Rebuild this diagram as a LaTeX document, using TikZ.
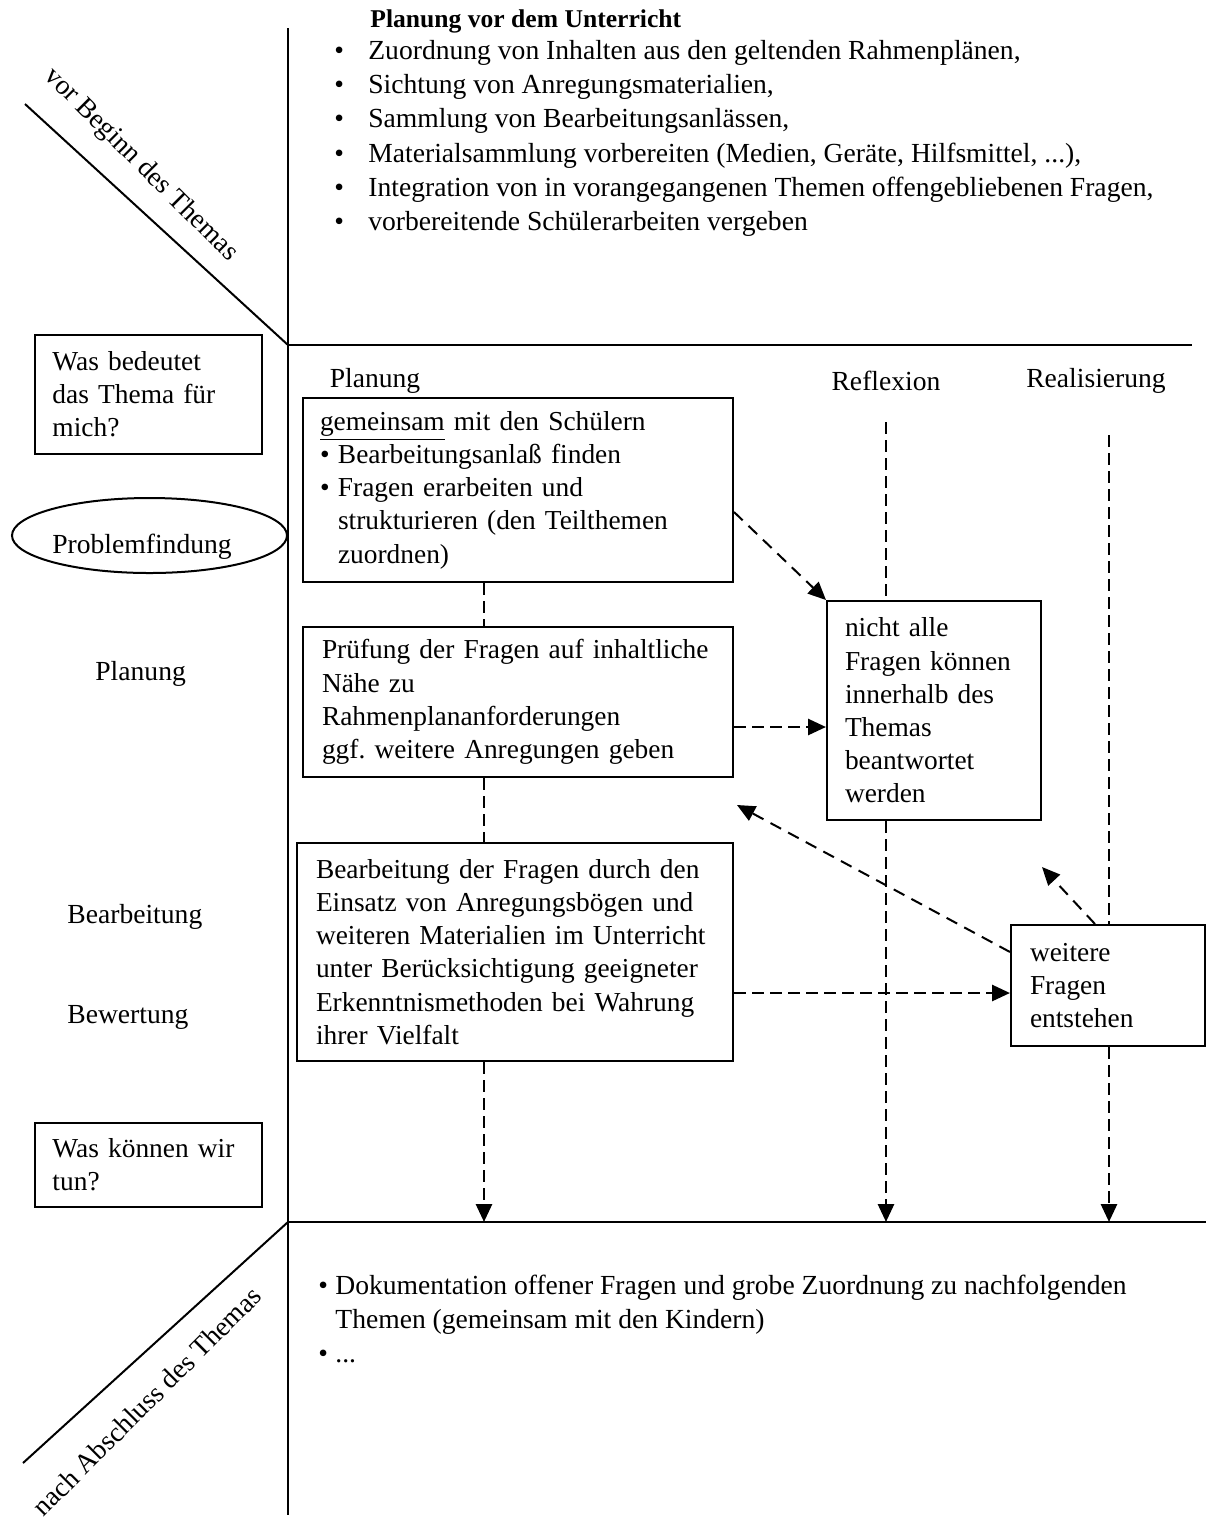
\documentclass[tikz,border=0pt]{standalone}
\usepackage{fontspec}
\setmainfont{Liberation Serif}
\usetikzlibrary{arrows.meta,shapes.geometric}
\frenchspacing
\newcommand{\oneline}[1]{\mbox{#1}}
\newcommand{\bul}[1]{\makebox[#1][l]{\textbullet}}
\begin{document}
\begin{tikzpicture}[x=0.5pt,y=-0.5pt,
  every node/.style={font=\fontsize{13.8}{16.6}\selectfont},
  line/.style={line width=1pt},
  box/.style={draw,line width=1pt,inner xsep=0pt,inner ysep=0pt,align=left,
    font=\fontsize{13.7}{16.6}\selectfont},
  dsh/.style={line width=1.4pt,dash pattern=on 6pt off 3pt},
  arr/.style={dsh,-{Triangle[length=9pt,width=8pt]}},
  darr/.style={line width=1pt,dash pattern=on 6pt off 4pt,-{Triangle[length=9pt,width=8pt]}},
  lbl/.style={anchor=base west,inner sep=0pt},
]
\useasboundingbox (0,0) rectangle (1206,1523);
% frame lines
\coordinate (vtop) at (288,28);
\coordinate (vbot) at (288,1515);
\coordinate (h1l) at (288,345);
\coordinate (h1r) at (1192,345);
\coordinate (h2l) at (288,1222);
\coordinate (h2r) at (1206,1222);
\coordinate (d1) at (25,104);
\coordinate (d2) at (23,1463);
\draw[line] (vtop) -- (vbot);
\draw[line] (h1l) -- (h1r);
\draw[line] (h2l) -- (h2r);
\draw[line] (d1) -- (h1l);
\draw[line] (h2l) -- (d2);
\node[rotate=-45] (vb) at (141,165) {vor Beginn des Themas};
\node[rotate=45] (na) at (147,1401) {nach Abschluss des Themas};
% top text
\node[lbl,font=\bfseries\fontsize{12.8}{16.6}\selectfont] (title) at (370,27) {Planung vor dem Unterricht};
\node[lbl] (t1) at (334,59) {\bul{17pt}Zuordnung von Inhalten aus den geltenden Rahmenplänen,};
\node[lbl] (t2) at (334,93) {\bul{17pt}Sichtung von Anregungsmaterialien,};
\node[lbl] (t3) at (334,127) {\bul{17pt}Sammlung von Bearbeitungsanlässen,};
\node[lbl] (t4) at (334,162) {\bul{17pt}Materialsammlung vorbereiten (Medien, Geräte, Hilfsmittel, ...),};
\node[lbl] (t5) at (334,196) {\bul{17pt}Integration von in vorangegangenen Themen offengebliebenen Fragen,};
\node[lbl] (t6) at (334,230) {\bul{17pt}vorbereitende Schülerarbeiten vergeben};
% left column
\node[box,minimum width=113.5pt,minimum height=59.5pt,text width=96pt] (was) at (148.5,394)
  {\oneline{Was bedeutet}\\\oneline{das Thema für}\\\oneline{mich?}};
\node[ellipse,draw,line width=1pt,minimum width=137.5pt,minimum height=37.5pt,inner sep=0pt,
  text height=17.5pt,text depth=0pt] (pf) at (149.5,535.5) {Problemfindung\hspace*{7.5pt}};
\node[lbl] (lplan) at (95,680) {Planung};
\node[lbl] (lbear) at (67,923) {Bearbeitung};
\node[lbl] (lbew) at (67,1023) {Bewertung};
\node[box,minimum width=113.5pt,minimum height=42pt,text width=96pt] (tun) at (148.5,1165)
  {\oneline{Was können wir}\\\oneline{tun?}};
% headers
\node (hplan) at (375,381) {Planung};
\node (hrefl) at (886,381) {Reflexion};
\node (hreal) at (1096,381) {Realisierung};
% main boxes
\node[box,minimum width=215pt,minimum height=92pt,text width=198pt] (b1) at (518,490)
  {\oneline{\underline{gemeinsam} mit den Schülern}\\
   \oneline{\bul{9pt}Bearbeitungsanlaß finden}\\
   \oneline{\bul{9pt}Fragen erarbeiten und}\\
   \oneline{\hspace*{9pt}strukturieren (den Teilthemen}\\
   \oneline{\hspace*{9pt}zuordnen)}};
\node[box,minimum width=215pt,minimum height=75pt,text width=196pt] (b2) at (518,702)
  {\oneline{Prüfung der Fragen auf inhaltliche}\\\oneline{Nähe zu}\\\oneline{Rahmenplananforderungen}\\\oneline{ggf. weitere Anregungen geben}};
\node[box,minimum width=218pt,minimum height=109pt,text width=199pt] (b3) at (515,952)
  {\oneline{Bearbeitung der Fragen durch den}\\\oneline{Einsatz von Anregungsbögen und}\\\oneline{weiteren Materialien im Unterricht}\\\oneline{unter Berücksichtigung geeigneter}\\\oneline{Erkenntnismethoden bei Wahrung}\\\oneline{ihrer Vielfalt}};
\node[box,minimum width=107pt,minimum height=109.5pt,text width=89pt] (b4) at (934,710.5)
  {\oneline{nicht alle}\\\oneline{Fragen können}\\\oneline{innerhalb des}\\\oneline{Themas}\\\oneline{beantwortet}\\\oneline{werden}};
\node[box,minimum width=97pt,minimum height=60.5pt,text width=78pt] (b5) at (1108,985.5)
  {\oneline{weitere}\\\oneline{Fragen}\\\oneline{entstehen}};
% bottom text
\node[lbl] (n1) at (318,1294) {\bul{8.5pt}Dokumentation offener Fragen und grobe Zuordnung zu nachfolgenden};
\node[lbl] (n2) at (335,1328) {Themen (gemeinsam mit den Kindern)};
\node[lbl] (n3) at (318,1362) {\bul{8.5pt}...};
% connectors
\coordinate (cx) at (484,0);
\draw[dsh] (b1.south -| cx) -- (b2.north -| cx);
\draw[dsh] (b2.south -| cx) -- (b3.north -| cx);
\draw[arr] (b3.south -| cx) -- (cx |- h2l);
\draw[darr] ([yshift=-11pt]b1.east) -- (b4.north west);
\draw[arr] ([yshift=-12.5pt]b2.east) coordinate (a2s) -- (a2s -| b4.west);
\draw[arr] ([yshift=-20.5pt]b3.east) coordinate (a3s) -- (a3s -| b5.west);
\coordinate (e1) at (737,805);
\coordinate (e2) at (1042,867);
\draw[darr] ([yshift=16.75pt]b5.west) -- (e1);
\draw[darr] ([xshift=-6.5pt]b5.north) -- (e2);
\coordinate (rtop) at (886,422);
\draw[dsh] (rtop) -- (rtop |- b4.north);
\draw[arr] (b4.south -| rtop) -- (rtop |- h2l);
\coordinate (ztop) at (1109,435);
\draw[dsh] (ztop) -- (ztop |- b5.north);
\draw[arr] (b5.south -| ztop) -- (ztop |- h2l);
\end{tikzpicture}
\end{document}
